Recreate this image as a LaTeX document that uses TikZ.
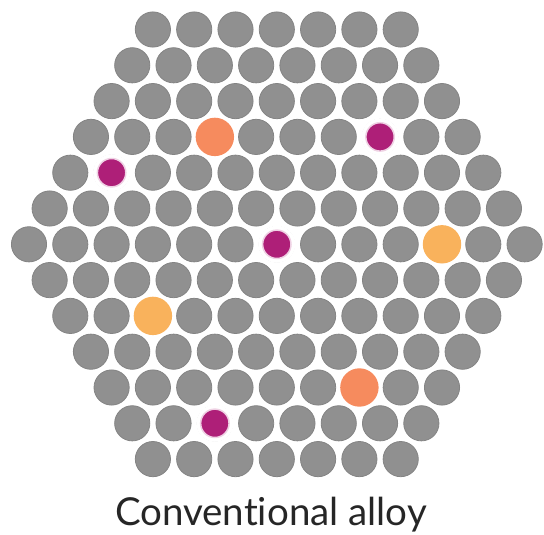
\documentclass[tikz,border=0pt]{standalone}
\usepackage{fontspec}
\setmainfont{Lato}[Ligatures=NoCommon]

\definecolor{atomgray}{HTML}{909090}
\definecolor{salmon}{HTML}{F68B5E}
\definecolor{amber}{HTML}{F9B25C}
\definecolor{plum}{HTML}{AE1F78}

\begin{document}
\begin{tikzpicture}[
    x=1pt, y=-1pt,
    atom/.style={fill=atomgray, draw=atomgray!92!black, line width=0.8pt},
    big solute/.style={fill=#1},
    small solute/.style={fill=plum, draw=plum!20, line width=1.5pt}
]

    \useasboundingbox (0,0) rectangle (544,535);

    % Host lattice: 13 rows, hexagonal packing
    \foreach \r in {0,...,12}{
        \pgfmathtruncatemacro{\k}{abs(\r-6)}
        \pgfmathtruncatemacro{\n}{12-\k}
        \foreach \i in {0,...,\n}{
            \coordinate (a-\r-\i) at ({29+\k*20.65+\i*41.3},{29.5+\r*35.8});
            \path[atom] (a-\r-\i) circle (17.6);
        }
    }

    % Large solute atoms
    \fill[big solute=salmon] (a-3-3) circle (19.2);
    \fill[big solute=salmon] (a-10-6) circle (19.2);
    \fill[big solute=amber] (a-6-10) circle (19.2);
    \fill[big solute=amber] (a-8-2) circle (19.2);

    % Small solute atoms
    \foreach \p in {3-7, 4-1, 6-6, 11-2}{
        \fill[white] (a-\p) circle (18.5);
        \path[small solute] (a-\p) circle (14.2);
    }

    % Caption
    \node[anchor=base, font=\fontsize{38.5}{44}\selectfont, text=black!85] (caption)
        at (271,525) {Conventional alloy};

\end{tikzpicture}
\end{document}
